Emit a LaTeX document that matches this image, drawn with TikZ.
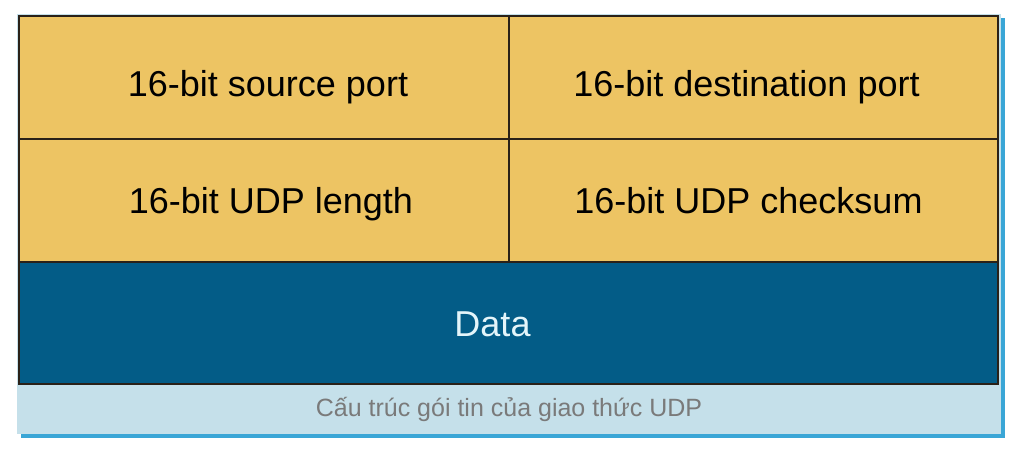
\documentclass[tikz,border=0pt]{standalone}
\usepackage{fontspec}
\setmainfont{Liberation Sans}
\usepackage{xcolor}
\usetikzlibrary{positioning}

\definecolor{gold}{HTML}{EDC463}
\definecolor{navy}{HTML}{035C87}
\definecolor{edge}{HTML}{2A2118}
\definecolor{datatext}{HTML}{E4F5FA}
\definecolor{capbg}{HTML}{C5E0EA}
\definecolor{capshadow}{HTML}{3AA6D6}
\definecolor{capgray}{HTML}{7A7A7A}

\begin{document}
\begin{tikzpicture}[x=1pt, y=-1pt, node distance=0pt, inner sep=0pt, outer sep=0pt,
  field/.style={rectangle, draw=edge, line width=2.2pt, fill=gold, minimum height=123pt,
    text height=26pt, text depth=0pt, font=\fontsize{36}{40}\selectfont},
  toprow/.style={text height=39pt},
  nudge/.style={execute at begin node={\hspace*{#1}}},
  datafield/.style={field, fill=navy, text=datatext, minimum width=979pt, minimum height=122pt},
  caption/.style={font=\fontsize{25}{30}\selectfont, text=capgray}]
\useasboundingbox (0,0) rectangle (1020,454);
% panel behind the header
\fill[capshadow] (21,18) rectangle (1005,438);
\fill[capbg] (17,14) rectangle (1001,434);
\node[field, toprow, nudge=8pt, minimum width=490pt, anchor=north west] (src) at (19,16) {16-bit source port};
\node[field, toprow, nudge=-14pt, minimum width=489pt] (dst) [right=of src] {16-bit destination port};
\node[field, nudge=14pt, minimum width=490pt] (len) [below=of src] {16-bit UDP length};
\node[field, nudge=-10pt, minimum width=489pt] (chk) [below=of dst] {16-bit UDP checksum};
\node[datafield, nudge=-32pt, anchor=north west] (data) at (len.south west) {Data};
\node[caption] (cap) at (509,409) {Cấu trúc gói tin của giao thức UDP};
\end{tikzpicture}
\end{document}
